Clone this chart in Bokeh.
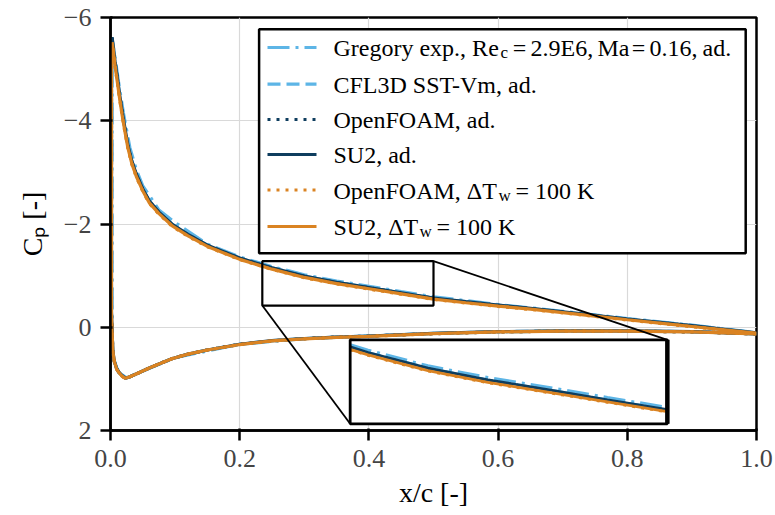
import numpy as np
from bokeh.plotting import figure
from bokeh.models import Range1d, FixedTicker, Label
from bokeh.embed import file_html
from bokeh.resources import INLINE

# ---------------- data ----------------
x_upper = [0.0015, 0.0025, 0.004, 0.007, 0.010, 0.014, 0.018, 0.022, 0.027, 0.033, 0.040,
           0.050, 0.060, 0.075, 0.095, 0.12, 0.15, 0.20, 0.25, 0.30, 0.35, 0.40, 0.45,
           0.50, 0.55, 0.60, 0.65, 0.70, 0.75, 0.80, 0.85, 0.90, 0.95, 1.00]
x_lower = [0.0015, 0.0036, 0.006, 0.0095, 0.013, 0.018, 0.023, 0.030, 0.044, 0.060, 0.075,
           0.095, 0.12, 0.15, 0.20, 0.25, 0.30, 0.35, 0.40, 0.50, 0.60, 0.70, 0.80, 0.90, 1.00]

cp_cfl3d_up = [-5.26, -5.62, -5.46, -5.15, -4.88, -4.52, -4.19, -3.88, -3.53, -3.22, -2.97,
               -2.68, -2.45, -2.23, -2.00, -1.80, -1.59, -1.34, -1.15, -0.99, -0.87, -0.77,
               -0.665, -0.565, -0.495, -0.43, -0.365, -0.30, -0.23, -0.16, -0.095, -0.03, 0.04, 0.11]
cp_cfl3d_lo = [-0.30, 0.46, 0.66, 0.80, 0.87, 0.94, 0.99, 0.96, 0.88, 0.79, 0.71, 0.61, 0.52,
               0.44, 0.33, 0.26, 0.22, 0.19, 0.17, 0.12, 0.085, 0.07, 0.07, 0.085, 0.13]

cp_of_ad_up = [-5.22, -5.60, -5.45, -5.14, -4.87, -4.51, -4.18, -3.87, -3.52, -3.21, -2.96,
               -2.67, -2.44, -2.22, -1.99, -1.79, -1.585, -1.335, -1.145, -0.985, -0.865, -0.765,
               -0.66, -0.56, -0.49, -0.425, -0.36, -0.295, -0.225, -0.155, -0.09, -0.025, 0.045, 0.115]
cp_of_ad_lo = [-0.25, 0.47, 0.67, 0.80, 0.87, 0.94, 0.99, 0.96, 0.88, 0.79, 0.71, 0.61, 0.52,
               0.44, 0.33, 0.265, 0.22, 0.19, 0.17, 0.125, 0.09, 0.075, 0.075, 0.09, 0.13]

cp_su2_ad_up = [-5.25, -5.62, -5.46, -5.15, -4.88, -4.52, -4.19, -3.88, -3.53, -3.22, -2.97,
                -2.68, -2.45, -2.23, -2.00, -1.80, -1.59, -1.34, -1.15, -0.99, -0.87, -0.77,
                -0.665, -0.565, -0.495, -0.43, -0.365, -0.30, -0.23, -0.16, -0.095, -0.03, 0.04, 0.11]
cp_su2_ad_lo = [-0.30, 0.46, 0.66, 0.80, 0.87, 0.94, 0.99, 0.96, 0.88, 0.79, 0.71, 0.61, 0.52,
                0.44, 0.33, 0.26, 0.22, 0.19, 0.17, 0.12, 0.085, 0.07, 0.07, 0.085, 0.13]

cp_of_dt_up = [-5.12, -5.50, -5.36, -5.06, -4.79, -4.43, -4.10, -3.80, -3.46, -3.16, -2.91,
               -2.63, -2.40, -2.19, -1.96, -1.76, -1.56, -1.31, -1.12, -0.96, -0.84, -0.74,
               -0.64, -0.54, -0.47, -0.405, -0.345, -0.28, -0.21, -0.14, -0.075, -0.01, 0.055, 0.12]
cp_of_dt_lo = [-0.20, 0.48, 0.67, 0.81, 0.88, 0.95, 0.99, 0.96, 0.88, 0.79, 0.71, 0.61, 0.52,
               0.44, 0.335, 0.265, 0.225, 0.195, 0.175, 0.125, 0.09, 0.075, 0.075, 0.09, 0.13]

cp_su2_dt_up = [-5.15, -5.52, -5.38, -5.07, -4.80, -4.44, -4.11, -3.81, -3.47, -3.17, -2.92,
                -2.64, -2.41, -2.20, -1.97, -1.77, -1.565, -1.315, -1.125, -0.965, -0.845, -0.745,
                -0.645, -0.545, -0.475, -0.41, -0.35, -0.285, -0.215, -0.145, -0.08, -0.015, 0.05, 0.115]
cp_su2_dt_lo = [-0.25, 0.47, 0.67, 0.81, 0.88, 0.95, 0.99, 0.96, 0.88, 0.79, 0.71, 0.61, 0.52,
                0.44, 0.335, 0.265, 0.225, 0.195, 0.175, 0.125, 0.09, 0.075, 0.075, 0.09, 0.13]

x_greg_up = [0.0025, 0.005, 0.0125, 0.02, 0.03, 0.04, 0.05, 0.075, 0.10, 0.15, 0.20, 0.25,
             0.30, 0.35, 0.40, 0.45, 0.50, 0.60, 0.70, 0.80, 0.90, 0.99]
cp_greg_up = [-5.58, -5.40, -4.75, -4.15, -3.48, -3.05, -2.74, -2.27, -2.03, -1.61, -1.36, -1.175,
              -1.015, -0.895, -0.795, -0.69, -0.59, -0.44, -0.31, -0.17, -0.04, 0.09]
x_greg_lo = [0.0025, 0.0125, 0.025, 0.05, 0.10, 0.20, 0.30, 0.40, 0.50, 0.60, 0.70, 0.80, 0.90, 0.99]
cp_greg_lo = [0.55, 0.88, 0.98, 0.85, 0.59, 0.33, 0.22, 0.17, 0.12, 0.09, 0.075, 0.075, 0.09, 0.11]

x_ticks = [0.0, 0.2, 0.4, 0.6, 0.8, 1.0]
x_tick_labels = ["0.0", "0.2", "0.4", "0.6", "0.8", "1.0"]
y_ticks = [-6, -4, -2, 0, 2]
y_tick_labels = ["\u22126", "\u22124", "\u22122", "0", "2"]
x_title = "x/c [-]"
y_title = "C\u209A [-]"

series_names = ["Gregory exp., Re_c = 2.9E6, Ma = 0.16, ad.", "CFL3D SST-Vm, ad.",
                "OpenFOAM, ad.", "SU2, ad.", "OpenFOAM, \u0394T_w = 100 K", "SU2, \u0394T_w = 100 K"]

# ---------------- style / layout ----------------
LIGHT_BLUE = "#5DB5E6"
NAVY = "#0E3D5E"
ORANGE = "#DA8322"
FONT = "Liberation Serif"

W, H = 775, 515
FL, FR, FT, FB = 110, 756, 17, 430          # frame edges in pixels
X0, X1, YT, YB = 0.0, 1.0, -6.0, 2.0


def sx(px):
    return X0 + (px - FL) / (FR - FL) * (X1 - X0)


def sy(py):
    return YT + (py - FT) / (FB - FT) * (YB - YT)


p = figure(width=W, height=H, output_backend="svg", toolbar_location=None,
           x_range=Range1d(X0, X1), y_range=Range1d(YB, YT),
           min_border_left=FL, min_border_right=W - FR,
           min_border_top=FT, min_border_bottom=H - FB)
p.outline_line_color = "black"
p.outline_line_width = 2.5

p.xaxis.ticker = FixedTicker(ticks=x_ticks)
p.yaxis.ticker = FixedTicker(ticks=y_ticks)
p.xaxis.major_label_overrides = dict(zip(x_ticks, x_tick_labels))
p.yaxis.major_label_overrides = dict(zip(y_ticks, y_tick_labels))
p.xaxis.axis_label = x_title
p.yaxis.axis_label = y_title
for ax in (p.xaxis[0], p.yaxis[0]):
    ax.axis_line_width = 2.5
    ax.axis_line_color = "black"
    ax.major_tick_line_width = 2.5
    ax.major_tick_line_color = "black"
    ax.major_tick_out = 10
    ax.major_tick_in = 2
    ax.minor_tick_line_color = None
    ax.major_label_text_font = FONT
    ax.major_label_text_font_size = "26px"
    ax.major_label_standoff = 9
    ax.axis_label_text_font = FONT
    ax.axis_label_text_font_size = "28px"
    ax.axis_label_text_font_style = "normal"
    ax.axis_label_text_color = "black"
p.xaxis.axis_label_standoff = 7
p.yaxis.axis_label_standoff = 13
p.xgrid.ticker = FixedTicker(ticks=x_ticks)
p.ygrid.ticker = FixedTicker(ticks=y_ticks)
for g in (p.xgrid[0], p.ygrid[0]):
    g.grid_line_color = "#d9d9d9"
    g.grid_line_width = 1.2

LW = 3.2
series = [
    (x_greg_lo, cp_greg_lo, x_greg_up, cp_greg_up, LIGHT_BLUE, "22 6 3 6"),
    (x_lower, cp_cfl3d_lo, x_upper, cp_cfl3d_up, LIGHT_BLUE, "13 6"),
    (x_lower, cp_of_ad_lo, x_upper, cp_of_ad_up, NAVY, "3 6"),
    (x_lower, cp_su2_ad_lo, x_upper, cp_su2_ad_up, NAVY, "solid"),
    (x_lower, cp_of_dt_lo, x_upper, cp_of_dt_up, ORANGE, "3 6"),
    (x_lower, cp_su2_dt_lo, x_upper, cp_su2_dt_up, ORANGE, "solid"),
]
for xl, cl, xu, cu, col, dash in series:
    xs = list(xl[::-1]) + list(xu)
    ys = list(cl[::-1]) + list(cu)
    p.line(xs, ys, line_color=col, line_width=LW, line_dash=dash)

# ---------------- zoom inset ----------------
SX0, SX1, SY0, SY1 = 0.235, 0.50, -1.28, -0.42      # zoomed window (data)
IX0, IX1, IY0, IY1 = 0.371, 0.862, 0.243, 1.87      # inset placement (data)


def window(xs, ys, lo, hi):
    xs = np.asarray(xs, float)
    ys = np.asarray(ys, float)
    m = (xs > lo) & (xs < hi)
    wx = np.concatenate([[lo], xs[m], [hi]])
    wy = np.concatenate([[np.interp(lo, xs, ys)], ys[m], [np.interp(hi, xs, ys)]])
    return wx, wy


def to_ix(x):
    return IX0 + (x - SX0) / (SX1 - SX0) * (IX1 - IX0)


def to_iy(c):
    return IY0 + (c - SY0) / (SY1 - SY0) * (IY1 - IY0)


p.quad(left=[SX0], right=[SX1], top=[SY0], bottom=[SY1], fill_color=None,
       line_color="black", line_width=2.2)
p.segment(x0=[SX1, SX0], y0=[SY0, SY1], x1=[IX1, IX0], y1=[IY0, IY1],
          line_color="black", line_width=1.8)
p.quad(left=[IX0], right=[IX1], top=[IY0], bottom=[IY1], fill_color="white",
       line_color=None)
for xl, cl, xu, cu, col, dash in series:
    wx, wy = window(xu, cu, SX0, SX1)
    p.line(to_ix(wx), to_iy(wy), line_color=col, line_width=2.8, line_dash=dash)
p.quad(left=[IX0], right=[IX1], top=[IY0], bottom=[IY1], fill_color=None,
       line_color="black", line_width=2.8)
p.segment(x0=[IX1], y0=[IY0], x1=[IX1], y1=[IY1], line_color="black", line_width=4.5)

# ---------------- legend (drawn by hand for sub-scripts) ----------------
LEG_L, LEG_R, LEG_T, LEG_B = 258.6, 745.2, 28.7, 252.8
p.quad(left=[sx(LEG_L)], right=[sx(LEG_R)], top=[sy(LEG_T)], bottom=[sy(LEG_B)],
       fill_color="white", line_color="black", line_width=2.5)
row_y = [47, 83.7, 119, 154, 189.5, 226]
H0, H1 = 267, 316
for (xl, cl, xu, cu, col, dash), ry in zip(series, row_y):
    p.line([sx(H0), sx(H1)], [sy(ry), sy(ry)], line_color=col, line_width=LW, line_dash=dash)

legend_segments = [
    [("Gregory exp., Re", 333, "n", "left"), ("c", 500, "s", "left"), ("=", 519, "n", "center"),
     ("2.9E6,", 530, "n", "left"), ("Ma", 597, "n", "left"), ("=", 638, "n", "center"),
     ("0.16,", 649, "n", "left"), ("ad.", 702, "n", "left")],
    [("CFL3D SST-Vm, ad.", 333, "n", "left")],
    [("OpenFOAM, ad.", 333, "n", "left")],
    [("SU2, ad.", 333, "n", "left")],
    [("OpenFOAM, \u0394T", 333, "n", "left"), ("w", 498, "s", "left"), ("= 100 K", 515, "n", "left")],
    [("SU2, \u0394T", 333, "n", "left"), ("w", 419, "s", "left"), ("= 100 K", 436, "n", "left")],
]
for segs, ry in zip(legend_segments, row_y):
    for txt, px, kind, align in segs:
        base = ry + 0.5 + (4.5 if kind == "s" else 0)
        p.add_layout(Label(x=sx(px), y=sy(base), text=txt, text_align=align,
                           text_baseline="alphabetic", text_font=FONT,
                           text_font_size="17px" if kind == "s" else "24px",
                           text_color="black"))

open("out.html", "w").write(file_html(p, INLINE))
